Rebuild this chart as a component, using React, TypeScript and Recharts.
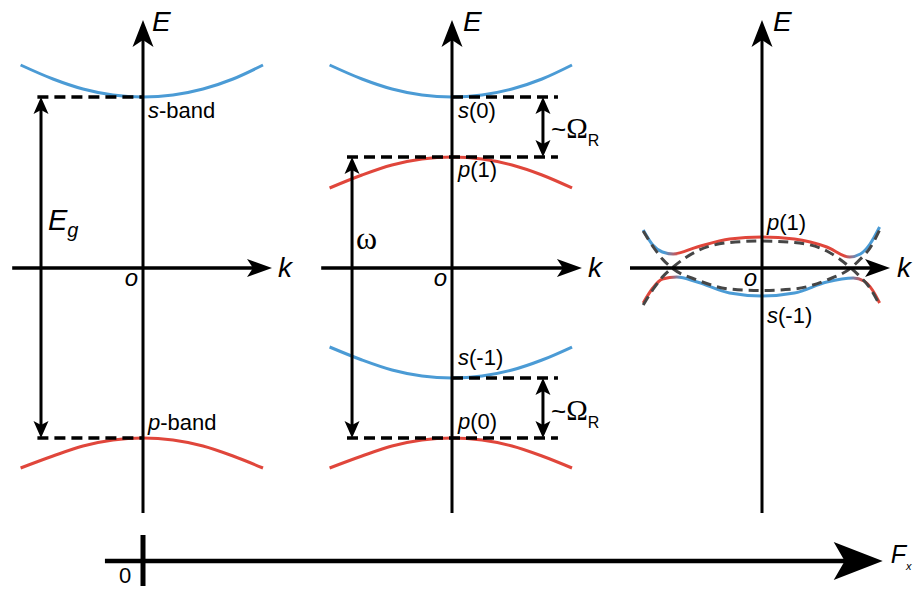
import React from 'react';
import { ComposedChart, Line, XAxis, YAxis, ReferenceLine, ReferenceDot } from 'recharts';

// ---------- layout constants ----------
const W = 913;
const H = 589;
const PX_PER_K = 120;
const PX_PER_E = 100;
const E_ZERO_PX = 268;
const PANEL1_X = 143;
const PANEL2_X = 452;
const PANEL3_X = 762;
const F_ORIGIN_X = 143;
const PX_PER_F = 309.5;
const SANS = '"Liberation Sans", Arial, sans-serif';
const SERIF = '"Liberation Serif", "Times New Roman", serif';
const BLUE = '#4b9bd5';
const RED = '#e0463b';
const GREY = '#464646';

// ---------- data ----------
// panels 1 & 2: band dispersions E(k)
const BAND_K = [-1.02, -0.75, -0.5, -0.25, 0, 0.25, 0.5, 0.75, 1.0];
const S_BAND_E = [2.03, 1.89, 1.79, 1.73, 1.71, 1.73, 1.79, 1.89, 2.03];
const P_BAND_E = [-2.0, -1.88, -1.78, -1.72, -1.7, -1.72, -1.78, -1.88, -2.0];
const S0_E = [2.03, 1.89, 1.79, 1.73, 1.71, 1.73, 1.79, 1.89, 2.03];
const P1_E = [0.8, 0.93, 1.03, 1.09, 1.11, 1.09, 1.03, 0.93, 0.8];
const SM1_E = [-0.79, -0.92, -1.02, -1.08, -1.1, -1.08, -1.02, -0.92, -0.79];
const P0_E = [-2.0, -1.88, -1.78, -1.72, -1.7, -1.72, -1.78, -1.88, -2.0];

// band-edge levels
const E_S = 1.71;
const E_P = -1.7;
const E_P1 = 1.11;
const E_SM1 = -1.1;

// panel 3: dressed bands (solid) and bare crossing bands (dashed)
const P3_UPPER_K = [-0.99, -0.91, -0.83, -0.74, -0.54, -0.27, 0, 0.27, 0.54, 0.73, 0.82, 0.9, 0.98];
const P3_UPPER_E = [0.38, 0.23, 0.16, 0.14, 0.21, 0.29, 0.31, 0.29, 0.21, 0.11, 0.14, 0.24, 0.41];
const P3_LOWER_K = [-0.99, -0.91, -0.83, -0.71, -0.54, -0.27, 0, 0.27, 0.54, 0.76, 0.85, 0.92, 0.98];
const P3_LOWER_E = [-0.35, -0.2, -0.11, -0.09, -0.14, -0.25, -0.28, -0.25, -0.14, -0.1, -0.13, -0.22, -0.35];
const P3_BARE_K = [-0.99, -0.9, -0.83, -0.75, -0.54, -0.27, 0, 0.27, 0.54, 0.74, 0.82, 0.9, 0.98];
const P3_BARE_P_E = [-0.37, -0.2, -0.09, 0.0, 0.17, 0.255, 0.27, 0.255, 0.17, 0.0, -0.09, -0.2, -0.37];
const P3_BARE_S_E = [0.37, 0.2, 0.09, 0.0, -0.12, -0.21, -0.225, -0.21, -0.12, 0.0, 0.09, 0.2, 0.38];

// axis extents
const K_AXIS_P1 = [-1.09, 1.075];
const K_AXIS_P2 = [-1.09, 1.083];
const K_AXIS_P3 = [-1.1, 1.067];
const E_AXIS = [-2.45, 2.48];
const F_AXIS = [-0.123, 2.39];
const F_AXIS_LEVEL = -2.93;
const F_TICK = [-2.67, -3.18];

// arrow positions
const K_EG = -0.85;
const K_OMEGA = -0.833;
const K_RABI = 0.758;
const K_DASH_LEFT_P1 = -0.88;
const K_DASH_LEFT_P2 = -0.875;
const K_DASH_RIGHT_P2 = 0.883;

const pts = (ks: number[], es: number[]) => ks.map((k, i) => ({ k, E: es[i] }));
const kDomain = (cx: number) => [-cx / PX_PER_K, (W - cx) / PX_PER_K];

// ---------- shapes ----------
type ArrowOpt = { w: number; head: number; half: number; notch: number; start?: boolean; end?: boolean; color?: string };
const arrowShape = (o: ArrowOpt) => (p: any) => {
  const { x1, y1, x2, y2 } = p;
  const color = o.color || '#000';
  const dx = x2 - x1;
  const dy = y2 - y1;
  const len = Math.hypot(dx, dy) || 1;
  const ux = dx / len;
  const uy = dy / len;
  const nx = -uy;
  const ny = ux;
  const head = (tx: number, ty: number, dxu: number, dyu: number) => {
    const bx = tx - dxu * o.head;
    const by = ty - dyu * o.head;
    const mx = tx - dxu * o.notch;
    const my = ty - dyu * o.notch;
    return `${tx},${ty} ${bx + nx * o.half},${by + ny * o.half} ${mx},${my} ${bx - nx * o.half},${by - ny * o.half}`;
  };
  const sx = o.start ? x1 + ux * (o.notch - 1) : x1;
  const sy = o.start ? y1 + uy * (o.notch - 1) : y1;
  const ex = o.end ? x2 - ux * (o.notch - 1) : x2;
  const ey = o.end ? y2 - uy * (o.notch - 1) : y2;
  return (
    <g>
      <line x1={sx} y1={sy} x2={ex} y2={ey} stroke={color} strokeWidth={o.w} />
      {o.end && <polygon points={head(x2, y2, ux, uy)} fill={color} />}
      {o.start && <polygon points={head(x1, y1, -ux, -uy)} fill={color} />}
    </g>
  );
};

const E_AXIS_SHAPE = arrowShape({ w: 3, head: 27, half: 10.5, notch: 20, end: true });
const K_AXIS_SHAPE = arrowShape({ w: 3.5, head: 25, half: 9, notch: 19, end: true });
const F_AXIS_SHAPE = arrowShape({ w: 4.5, head: 49, half: 19, notch: 38, end: true });
const DOUBLE_SHAPE = arrowShape({ w: 3, head: 17, half: 7.5, notch: 13, start: true, end: true });

const txt = (content: React.ReactNode, dx: number, dy: number, size: number, opts: { anchor?: string; family?: string; italic?: boolean } = {}) =>
  (p: any) => (
    <text
      x={p.cx + dx}
      y={p.cy + dy}
      fontSize={size}
      fontFamily={opts.family || SANS}
      fontStyle={opts.italic ? 'italic' : 'normal'}
      textAnchor={opts.anchor || 'start'}
      fill="#000"
    >
      {content}
    </text>
  );

const bandLabel = (letter: string, rest: string) => (
  <>
    <tspan fontStyle="italic">{letter}</tspan>
    <tspan>{rest}</tspan>
  </>
);

const rabi = (
  <>
    <tspan fontSize={26}>~</tspan>
    <tspan fontFamily={SERIF} fontSize={29}>Ω</tspan>
    <tspan fontSize={16} dy={8}>R</tspan>
  </>
);

export default function App() {
  const dashProps = { stroke: '#000', strokeWidth: 3.5, strokeDasharray: '11 6' };
  return (
    <div style={{ position: 'absolute', left: 0, top: 0, width: W, height: H, background: '#fff' }}>
      <ComposedChart width={W} height={H} margin={{ top: 0, right: 0, bottom: 0, left: 0 }}>
        <defs>
          <linearGradient id="gUpper" x1="0" y1="0" x2="1" y2="0">
            <stop offset="0" stopColor={BLUE} />
            <stop offset="0.09" stopColor={BLUE} />
            <stop offset="0.15" stopColor={RED} />
            <stop offset="0.85" stopColor={RED} />
            <stop offset="0.91" stopColor={BLUE} />
            <stop offset="1" stopColor={BLUE} />
          </linearGradient>
          <linearGradient id="gLower" x1="0" y1="0" x2="1" y2="0">
            <stop offset="0" stopColor={RED} />
            <stop offset="0.11" stopColor={RED} />
            <stop offset="0.16" stopColor={BLUE} />
            <stop offset="0.87" stopColor={BLUE} />
            <stop offset="0.93" stopColor={RED} />
            <stop offset="1" stopColor={RED} />
          </linearGradient>
        </defs>
        <XAxis xAxisId="p1" type="number" dataKey="k" domain={kDomain(PANEL1_X)} allowDataOverflow hide />
        <XAxis xAxisId="p2" type="number" dataKey="k" domain={kDomain(PANEL2_X)} allowDataOverflow hide />
        <XAxis xAxisId="p3" type="number" dataKey="k" domain={kDomain(PANEL3_X)} allowDataOverflow hide />
        <XAxis xAxisId="F" type="number" dataKey="F" domain={[-F_ORIGIN_X / PX_PER_F, (W - F_ORIGIN_X) / PX_PER_F]} allowDataOverflow hide />
        <YAxis yAxisId="E" type="number" domain={[(E_ZERO_PX - H) / PX_PER_E, E_ZERO_PX / PX_PER_E]} allowDataOverflow hide />

        {/* panel 1 bands */}
        <Line xAxisId="p1" yAxisId="E" data={pts(BAND_K, S_BAND_E)} dataKey="E" type="monotone" stroke={BLUE} strokeWidth={3} dot={false} activeDot={false} isAnimationActive={false} />
        <Line xAxisId="p1" yAxisId="E" data={pts(BAND_K, P_BAND_E)} dataKey="E" type="monotone" stroke={RED} strokeWidth={3} dot={false} activeDot={false} isAnimationActive={false} />
        {/* panel 2 bands */}
        <Line xAxisId="p2" yAxisId="E" data={pts(BAND_K, S0_E)} dataKey="E" type="monotone" stroke={BLUE} strokeWidth={3} dot={false} activeDot={false} isAnimationActive={false} />
        <Line xAxisId="p2" yAxisId="E" data={pts(BAND_K, P1_E)} dataKey="E" type="monotone" stroke={RED} strokeWidth={3} dot={false} activeDot={false} isAnimationActive={false} />
        <Line xAxisId="p2" yAxisId="E" data={pts(BAND_K, SM1_E)} dataKey="E" type="monotone" stroke={BLUE} strokeWidth={3} dot={false} activeDot={false} isAnimationActive={false} />
        <Line xAxisId="p2" yAxisId="E" data={pts(BAND_K, P0_E)} dataKey="E" type="monotone" stroke={RED} strokeWidth={3} dot={false} activeDot={false} isAnimationActive={false} />
        {/* panel 3 bands */}
        <Line xAxisId="p3" yAxisId="E" data={pts(P3_UPPER_K, P3_UPPER_E)} dataKey="E" type="monotone" stroke="url(#gUpper)" strokeWidth={3} dot={false} activeDot={false} isAnimationActive={false} />
        <Line xAxisId="p3" yAxisId="E" data={pts(P3_LOWER_K, P3_LOWER_E)} dataKey="E" type="monotone" stroke="url(#gLower)" strokeWidth={3} dot={false} activeDot={false} isAnimationActive={false} />
        <Line xAxisId="p3" yAxisId="E" data={pts(P3_BARE_K, P3_BARE_P_E)} dataKey="E" type="monotone" stroke={GREY} strokeWidth={3} strokeDasharray="10 6" dot={false} activeDot={false} isAnimationActive={false} />
        <Line xAxisId="p3" yAxisId="E" data={pts(P3_BARE_K, P3_BARE_S_E)} dataKey="E" type="monotone" stroke={GREY} strokeWidth={3} strokeDasharray="10 6" dot={false} activeDot={false} isAnimationActive={false} />

        {/* dashed band-edge lines */}
        <ReferenceLine xAxisId="p1" yAxisId="E" segment={[{ x: K_DASH_LEFT_P1, y: E_S }, { x: 0, y: E_S }]} {...dashProps} />
        <ReferenceLine xAxisId="p1" yAxisId="E" segment={[{ x: K_DASH_LEFT_P1, y: E_P }, { x: 0, y: E_P }]} {...dashProps} />
        <ReferenceLine xAxisId="p2" yAxisId="E" segment={[{ x: 0, y: E_S }, { x: K_DASH_RIGHT_P2, y: E_S }]} {...dashProps} />
        <ReferenceLine xAxisId="p2" yAxisId="E" segment={[{ x: K_DASH_LEFT_P2, y: E_P1 }, { x: K_DASH_RIGHT_P2, y: E_P1 }]} {...dashProps} />
        <ReferenceLine xAxisId="p2" yAxisId="E" segment={[{ x: 0, y: E_SM1 }, { x: K_DASH_RIGHT_P2, y: E_SM1 }]} {...dashProps} />
        <ReferenceLine xAxisId="p2" yAxisId="E" segment={[{ x: K_DASH_LEFT_P2, y: E_P }, { x: K_DASH_RIGHT_P2, y: E_P }]} {...dashProps} />

        {/* axes */}
        <ReferenceLine xAxisId="p1" yAxisId="E" segment={[{ x: 0, y: E_AXIS[0] }, { x: 0, y: E_AXIS[1] }]} shape={E_AXIS_SHAPE} />
        <ReferenceLine xAxisId="p2" yAxisId="E" segment={[{ x: 0, y: E_AXIS[0] }, { x: 0, y: E_AXIS[1] }]} shape={E_AXIS_SHAPE} />
        <ReferenceLine xAxisId="p3" yAxisId="E" segment={[{ x: 0, y: E_AXIS[0] }, { x: 0, y: E_AXIS[1] }]} shape={E_AXIS_SHAPE} />
        <ReferenceLine xAxisId="p1" yAxisId="E" segment={[{ x: K_AXIS_P1[0], y: 0 }, { x: K_AXIS_P1[1], y: 0 }]} shape={K_AXIS_SHAPE} />
        <ReferenceLine xAxisId="p2" yAxisId="E" segment={[{ x: K_AXIS_P2[0], y: 0 }, { x: K_AXIS_P2[1], y: 0 }]} shape={K_AXIS_SHAPE} />
        <ReferenceLine xAxisId="p3" yAxisId="E" segment={[{ x: K_AXIS_P3[0], y: 0 }, { x: K_AXIS_P3[1], y: 0 }]} shape={K_AXIS_SHAPE} />
        <ReferenceLine xAxisId="F" yAxisId="E" segment={[{ x: F_AXIS[0], y: F_AXIS_LEVEL }, { x: F_AXIS[1], y: F_AXIS_LEVEL }]} shape={F_AXIS_SHAPE} />
        <ReferenceLine xAxisId="F" yAxisId="E" segment={[{ x: 0, y: F_TICK[0] }, { x: 0, y: F_TICK[1] }]} stroke="#000" strokeWidth={5} />

        {/* energy arrows */}
        <ReferenceLine xAxisId="p1" yAxisId="E" segment={[{ x: K_EG, y: E_P }, { x: K_EG, y: E_S }]} shape={DOUBLE_SHAPE} />
        <ReferenceLine xAxisId="p2" yAxisId="E" segment={[{ x: K_OMEGA, y: E_P }, { x: K_OMEGA, y: E_P1 }]} shape={DOUBLE_SHAPE} />
        <ReferenceLine xAxisId="p2" yAxisId="E" segment={[{ x: K_RABI, y: E_P1 }, { x: K_RABI, y: E_S }]} shape={DOUBLE_SHAPE} />
        <ReferenceLine xAxisId="p2" yAxisId="E" segment={[{ x: K_RABI, y: E_P }, { x: K_RABI, y: E_SM1 }]} shape={DOUBLE_SHAPE} />

        {/* labels: panel 1 */}
        <ReferenceDot xAxisId="p1" yAxisId="E" x={0} y={E_AXIS[1]} shape={txt('E', 9, 11, 28, { italic: true })} />
        <ReferenceDot xAxisId="p1" yAxisId="E" x={K_AXIS_P1[1]} y={0} shape={txt('k', 6, 9, 28, { italic: true })} />
        <ReferenceDot xAxisId="p1" yAxisId="E" x={0} y={0} shape={txt('o', -5, 18, 24, { italic: true, anchor: 'end' })} />
        <ReferenceDot xAxisId="p1" yAxisId="E" x={0} y={E_S} shape={txt(bandLabel('s', '-band'), 5, 21, 22)} />
        <ReferenceDot xAxisId="p1" yAxisId="E" x={0} y={E_P} shape={txt(bandLabel('p', '-band'), 5, -8, 22)} />
        <ReferenceDot xAxisId="p1" yAxisId="E" x={K_EG} y={0} shape={txt(<><tspan>E</tspan><tspan fontSize={20} dy={7}>g</tspan></>, 7, -38, 29, { italic: true })} />

        {/* labels: panel 2 */}
        <ReferenceDot xAxisId="p2" yAxisId="E" x={0} y={E_AXIS[1]} shape={txt('E', 11, 11, 28, { italic: true })} />
        <ReferenceDot xAxisId="p2" yAxisId="E" x={K_AXIS_P2[1]} y={0} shape={txt('k', 6, 9, 28, { italic: true })} />
        <ReferenceDot xAxisId="p2" yAxisId="E" x={0} y={0} shape={txt('o', -5, 18, 24, { italic: true, anchor: 'end' })} />
        <ReferenceDot xAxisId="p2" yAxisId="E" x={0} y={E_S} shape={txt(bandLabel('s', '(0)'), 6, 21, 22)} />
        <ReferenceDot xAxisId="p2" yAxisId="E" x={0} y={E_P1} shape={txt(bandLabel('p', '(1)'), 6, 20, 22)} />
        <ReferenceDot xAxisId="p2" yAxisId="E" x={0} y={E_SM1} shape={txt(bandLabel('s', '(-1)'), 6, -13, 22)} />
        <ReferenceDot xAxisId="p2" yAxisId="E" x={0} y={E_P} shape={txt(bandLabel('p', '(0)'), 6, -9, 22)} />
        <ReferenceDot xAxisId="p2" yAxisId="E" x={K_OMEGA} y={0} shape={txt('ω', 4, -19, 32, { family: SERIF })} />
        <ReferenceDot xAxisId="p2" yAxisId="E" x={K_RABI} y={E_S} shape={txt(rabi, 8, 41, 24)} />
        <ReferenceDot xAxisId="p2" yAxisId="E" x={K_RABI} y={E_SM1} shape={txt(rabi, 8, 42, 24)} />

        {/* labels: panel 3 */}
        <ReferenceDot xAxisId="p3" yAxisId="E" x={0} y={E_AXIS[1]} shape={txt('E', 11, 11, 28, { italic: true })} />
        <ReferenceDot xAxisId="p3" yAxisId="E" x={K_AXIS_P3[1]} y={0} shape={txt('k', 7, 9, 28, { italic: true })} />
        <ReferenceDot xAxisId="p3" yAxisId="E" x={0} y={0} shape={txt('o', -5, 18, 24, { italic: true, anchor: 'end' })} />
        <ReferenceDot xAxisId="p3" yAxisId="E" x={0} y={P3_UPPER_E[6]} shape={txt(bandLabel('p', '(1)'), 5, -7, 22)} />
        <ReferenceDot xAxisId="p3" yAxisId="E" x={0} y={P3_LOWER_E[6]} shape={txt(bandLabel('s', '(-1)'), 5, 27, 22)} />

        {/* labels: F axis */}
        <ReferenceDot xAxisId="F" yAxisId="E" x={0} y={F_AXIS_LEVEL} shape={txt('0', -24, 22, 22)} />
        <ReferenceDot xAxisId="F" yAxisId="E" x={F_AXIS[1]} y={F_AXIS_LEVEL} shape={txt(<><tspan>F</tspan><tspan fontSize={11} dy={7}>x</tspan></>, 8, 2, 25, { italic: true })} />
      </ComposedChart>
    </div>
  );
}
